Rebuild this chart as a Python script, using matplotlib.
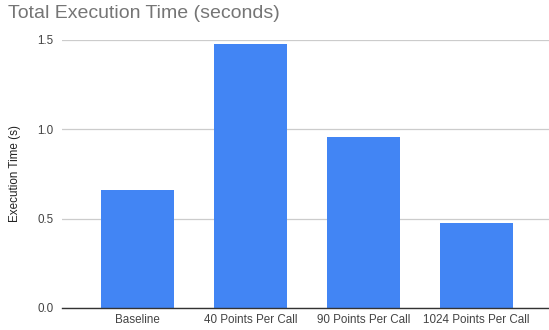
import matplotlib
matplotlib.use("Agg")
import matplotlib.pyplot as plt

categories = ["Baseline", "40 Points Per Call", "90 Points Per Call", "1024 Points Per Call"]
exec_times = [0.66, 1.477, 0.957, 0.476]
y_ticks = [0.0, 0.5, 1.0, 1.5]
y_tick_labels = ["0.0", "0.5", "1.0", "1.5"]

plt.rcParams["font.family"] = ["Liberation Sans", "DejaVu Sans"]

fig = plt.figure(figsize=(5.49, 3.30), dpi=100)
ax = fig.add_axes([62 / 549, 22 / 330, 487 / 549, 268 / 330])

x = list(range(len(categories)))
ax.bar(x, exec_times, width=0.646, color="#4285F4", zorder=3)

ax.set_xlim(-0.668, 3.642)
ax.set_ylim(0, 1.5)
ax.set_xticks(x)
ax.set_xticklabels(categories, fontsize=8.4, color="#444444")
ax.set_yticks(y_ticks)
ax.set_yticklabels(y_tick_labels, fontsize=8.4, color="#444444")
ax.tick_params(axis="both", length=0)
ax.tick_params(axis="y", pad=6)
ax.tick_params(axis="x", pad=4)

ax.grid(axis="y", color="#cccccc", linewidth=0.9, zorder=0)
ax.set_axisbelow(True)
for side in ("top", "right", "left"):
    ax.spines[side].set_visible(False)
ax.spines["bottom"].set_color("#333333")
ax.spines["bottom"].set_linewidth(1.0)
ax.spines["bottom"].set_zorder(4)

ax.set_ylabel("Execution Time (s)", fontsize=8.4, color="#222222", labelpad=12)

fig.text(8 / 549, 1 - 14 / 330, "Total Execution Time (seconds)", fontsize=14,
         color="#757575", ha="left", va="center")

fig.savefig("out.png", dpi=100)
